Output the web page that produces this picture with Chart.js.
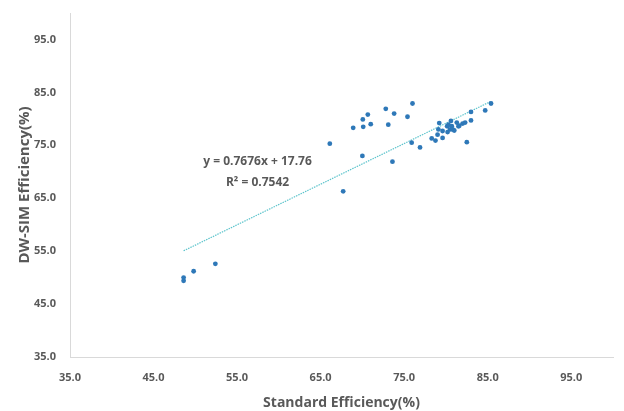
<!DOCTYPE html>
<html>
<head>
<meta charset="utf-8">
<script src="https://cdn.jsdelivr.net/npm/chart.js@4.4.1/dist/chart.umd.min.js"></script>
<style>
  html, body { margin: 0; padding: 0; background: #ffffff; }
  #wrap { width: 624px; height: 411px; position: relative; }
</style>
</head>
<body>
<div id="wrap"><canvas id="c" width="624" height="411"></canvas></div>
<script>
// Standard efficiency (x) and DW-SIM efficiency (y)
const standardEff = [
  48.6, 48.6, 49.8, 52.4,
  66.1, 67.7, 68.9, 70.0, 70.05, 70.1, 70.65, 71.0,
  72.8, 73.1, 73.6, 73.8, 75.4, 75.9, 76.0, 76.9,
  78.3, 78.75, 79.0, 79.1, 79.2, 79.6, 79.6, 80.15, 80.2, 80.3, 80.5,
  80.6, 80.7, 80.8, 81.0, 81.3, 81.5, 81.6, 82.0, 82.3, 82.5,
  83.0, 83.0, 84.7, 85.4
];
const dwsimEff = [
  50.0, 49.4, 51.2, 52.6,
  75.3, 66.3, 78.3, 73.0, 79.9, 78.5, 80.8, 79.0,
  81.9, 78.9, 71.9, 81.0, 80.4, 75.5, 82.9, 74.6,
  76.3, 75.9, 77.0, 78.0, 79.2, 77.7, 76.4, 78.6, 77.5, 78.9, 78.0,
  79.6, 78.6, 78.0, 77.8, 79.3, 78.6, 78.7, 79.1, 79.3, 75.6,
  81.3, 79.7, 81.6, 82.9
];
const xTicks = [35, 45, 55, 65, 75, 85, 95];
const yTicks = [35, 45, 55, 65, 75, 85, 95];
const trendSlope = 0.7676;
const trendIntercept = 17.76;
const trendRange = [48.6, 85.4];
const equationLines = ['y = 0.7676x + 17.76', 'R\u00B2 = 0.7542'];
const equationAnchor = [57.45, 71.9, 68.0]; // x, y of line 1, y of line 2 (data units)

const points = standardEff.map((x, i) => ({ x: x, y: dwsimEff[i] }));
const trendPoints = trendRange.map(x => ({ x: x, y: trendSlope * x + trendIntercept }));

const gray = '#595959';
const tickFont = { family: "'Open Sans', 'Noto Sans', sans-serif", size: 11, weight: 'bold' };

const equationPlugin = {
  id: 'equation',
  afterDatasetsDraw(chart) {
    const { ctx, scales } = chart;
    const cx = scales.x.getPixelForValue(equationAnchor[0]);
    ctx.save();
    ctx.fillStyle = gray;
    ctx.font = "bold 12px 'Open Sans', 'Noto Sans', sans-serif";
    ctx.textAlign = 'center';
    ctx.textBaseline = 'middle';
    ctx.fillText(equationLines[0], cx, scales.y.getPixelForValue(equationAnchor[1]));
    ctx.fillText(equationLines[1], cx, scales.y.getPixelForValue(equationAnchor[2]));
    ctx.restore();
  }
};

new Chart(document.getElementById('c'), {
  type: 'scatter',
  data: {
    datasets: [
      {
        label: 'Efficiency',
        data: points,
        backgroundColor: '#2E78B8',
        borderColor: '#2E78B8',
        pointRadius: 2.4,
        pointBorderWidth: 0,
        order: 1
      },
      {
        label: 'Trend',
        type: 'line',
        data: trendPoints,
        borderColor: '#5CC4CC',
        borderWidth: 1.2,
        borderDash: [1.5, 1],
        pointRadius: 0,
        fill: false,
        order: 2
      }
    ]
  },
  options: {
    responsive: false,
    animation: false,
    devicePixelRatio: 1,
    layout: { padding: { top: 13, right: 11, left: 0, bottom: 0 } },
    plugins: { legend: { display: false }, tooltip: { enabled: false } },
    scales: {
      x: {
        type: 'linear',
        min: 35, max: 100,
        afterBuildTicks(scale) { scale.ticks = xTicks.map(v => ({ value: v })); },
        afterFit(scale) { scale.height = 54; scale.paddingLeft = 0; scale.paddingRight = 0; },
        grid: { display: false, drawTicks: false },
        border: { display: true, color: '#d9d9d9', width: 1 },
        ticks: {
          color: gray, font: tickFont, padding: 14, maxRotation: 0,
          callback: v => Number(v).toFixed(1)
        },
        title: {
          display: true, text: 'Standard Efficiency(%)', color: gray,
          font: { family: "'Open Sans', 'Noto Sans', sans-serif", size: 14, weight: 'bold' },
          padding: { top: 0, bottom: 0 }
        }
      },
      y: {
        type: 'linear',
        min: 35, max: 100,
        afterBuildTicks(scale) { scale.ticks = yTicks.map(v => ({ value: v })); },
        afterFit(scale) { scale.width = 70; scale.paddingTop = 0; scale.paddingBottom = 0; },
        grid: { display: false, drawTicks: false },
        border: { display: true, color: '#d9d9d9', width: 1 },
        ticks: {
          color: gray, font: tickFont, padding: 14,
          callback: v => Number(v).toFixed(1)
        },
        title: {
          display: true, text: 'DW-SIM Efficiency(%)', color: gray,
          font: { family: "'Open Sans', 'Noto Sans', sans-serif", size: 15, weight: 'bold' },
          padding: { top: 16, bottom: 0 }
        }
      }
    }
  },
  plugins: [equationPlugin]
});
</script>
</body>
</html>
